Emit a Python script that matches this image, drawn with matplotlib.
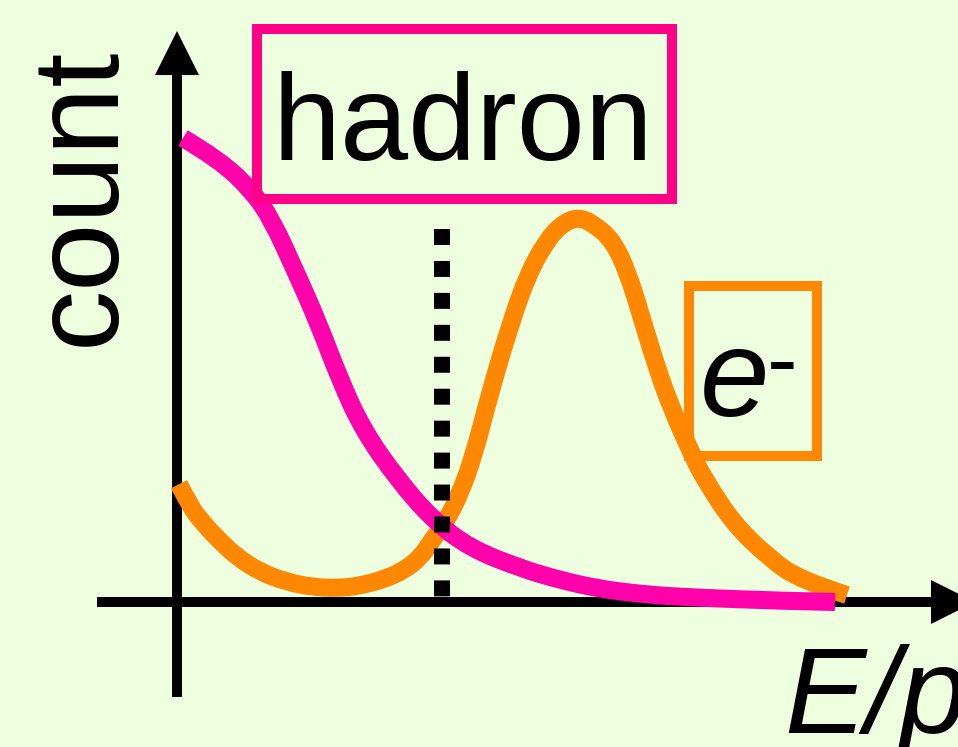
import matplotlib
matplotlib.use("Agg")
import matplotlib.pyplot as plt
from matplotlib.patches import Rectangle, PathPatch
from matplotlib.path import Path

BG_COLOR     = "#EEFFE0"
HADRON_COLOR = "#FF00AA"
HADRON_BOX   = "#FF0088"
ELEC_COLOR   = "#FF8800"
FONT         = "Liberation Sans"

# E/p values and (arbitrary) counts
HADRON_EP    = [0.015, 0.1075, 0.19, 0.2375, 0.295, 0.3525, 0.4075, 0.465, 0.5525,
                0.64, 0.7325, 0.8575, 0.9575, 1.0575, 1.1575, 1.2575, 1.5075, 1.645]
HADRON_COUNT = [1.205, 1.148, 1.065, 0.992, 0.862, 0.727, 0.577, 0.447, 0.317,
                0.213, 0.140, 0.088, 0.057, 0.034, 0.021, 0.013, 0.003, 0.0]

ELEC_EP    = [0.005, 0.0325, 0.065, 0.1075, 0.15, 0.2075, 0.275, 0.3375, 0.4, 0.4575,
              0.52, 0.565, 0.6075, 0.64, 0.6725, 0.7075, 0.7425, 0.7825, 0.8325, 0.8775,
              0.925, 0.9625, 1.0025, 1.0425, 1.09, 1.1275, 1.165, 1.2, 1.235, 1.29,
              1.32, 1.39, 1.4775, 1.5575, 1.675]
ELEC_COUNT = [0.306, 0.249, 0.205, 0.158, 0.117, 0.078, 0.052, 0.039, 0.036, 0.042,
              0.060, 0.081, 0.114, 0.164, 0.210, 0.281, 0.382, 0.543, 0.719, 0.852,
              0.940, 0.982, 1.0, 0.982, 0.938, 0.855, 0.727, 0.608, 0.506, 0.377,
              0.317, 0.205, 0.117, 0.057, 0.018]

EP_CUT = 0.6625            # dotted cut line
CUT_TOP, CUT_BOTTOM = 0.969, 0.013

HADRON_LABEL = "hadron"
ELEC_LABEL   = "e"
X_LABEL      = "E/p"
Y_LABEL      = "count"


def smooth_curve(ax, xs, ys, color, zorder):
    # quadratic B-spline through the read points (points act as control points)
    pts = list(zip(xs, ys))
    verts = [pts[0]]
    codes = [Path.MOVETO]
    for i in range(1, len(pts) - 1):
        mid = ((pts[i][0] + pts[i + 1][0]) / 2, (pts[i][1] + pts[i + 1][1]) / 2)
        if i == len(pts) - 2:
            mid = pts[-1]
        verts += [pts[i], mid]
        codes += [Path.CURVE3, Path.CURVE3]
    patch = PathPatch(Path(verts, codes), fill=False, ec=color, lw=13,
                      capstyle="butt", joinstyle="round", zorder=zorder)
    ax.add_patch(patch)


def arrow_head(ax, tip, base):
    ax.annotate("", xy=tip, xytext=base, annotation_clip=False,
                arrowprops=dict(arrowstyle="-|>,head_length=1.0,head_width=0.5",
                                mutation_scale=31.7, lw=0, color="black",
                                shrinkA=0, shrinkB=0))


def plot():
    fig = plt.figure(figsize=(9.58, 7.47), dpi=100)
    fig.patch.set_facecolor(BG_COLOR)
    ax = fig.add_axes([0, 0, 1, 1])
    ax.set_facecolor(BG_COLOR)
    ax.set_xlim(-0.4425, 1.9525)
    ax.set_ylim(-0.3766, 1.5636)
    ax.axis("off")

    # axes drawn by hand, sketch style
    ax.plot([-0.2, 1.9], [0, 0], color="black", lw=7.2, solid_capstyle="butt", zorder=1)
    ax.plot([0, 0], [-0.247, 1.38], color="black", lw=7.2, solid_capstyle="butt", zorder=1)
    arrow_head(ax, (1.995, 0), (1.5, 0))
    arrow_head(ax, (0, 1.483), (0, 1.0))

    smooth_curve(ax, ELEC_EP, ELEC_COUNT, ELEC_COLOR, 2)
    smooth_curve(ax, HADRON_EP, HADRON_COUNT, HADRON_COLOR, 3)

    ax.plot([EP_CUT, EP_CUT], [CUT_TOP, CUT_BOTTOM], color="black", lw=11.5,
            linestyle=(0, (1, 1)), dash_capstyle="butt", zorder=4)

    # label boxes
    ax.add_patch(Rectangle((0.2, 1.047), 1.0375, 0.441, fill=False,
                           ec=HADRON_BOX, lw=7.2, zorder=5))
    ax.add_patch(Rectangle((1.28, 0.379), 0.32, 0.442, fill=False,
                           ec=ELEC_COLOR, lw=7.2, zorder=5))

    ax.text(0.715, 1.148, HADRON_LABEL, ha="center", va="baseline",
            fontsize=88, family=FONT, zorder=6)
    ax.text(1.3075, 0.483, ELEC_LABEL, ha="left", va="baseline",
            fontsize=90, family=FONT, style="italic", zorder=6)
    ax.text(1.475, 0.551, "-", ha="left", va="baseline",
            fontsize=66, family=FONT, zorder=6)

    ax.text(-0.1575, 1.055, Y_LABEL, rotation=90, rotation_mode="anchor",
            ha="center", va="baseline", fontsize=88, family=FONT, zorder=6)
    ax.text(1.5175, -0.340, X_LABEL, ha="left", va="baseline",
            fontsize=88, family=FONT, style="italic", zorder=6)

    fig.savefig("out.png", dpi=100, facecolor=BG_COLOR)
    plt.close(fig)


if __name__ == "__main__":
    plot()
